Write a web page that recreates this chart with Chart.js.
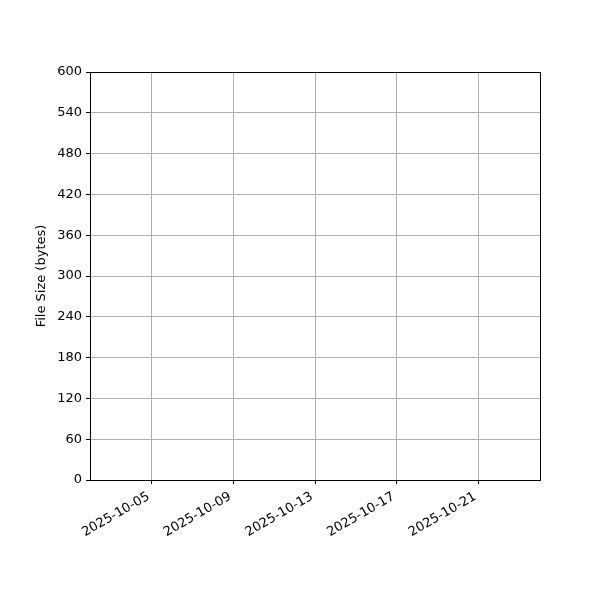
<!DOCTYPE html>
<html>
<head>
<meta charset="utf-8">
<script src="https://cdn.jsdelivr.net/npm/chart.js@4.4.1/dist/chart.umd.min.js"></script>
<style>
  html, body { margin: 0; padding: 0; background: #fff; }
  #wrap { width: 600px; height: 600px; }
</style>
</head>
<body>
<div id="wrap"><canvas id="size_chart" width="600" height="600"></canvas></div>
<script>
// series (empty in the source picture)
var uploadDates = [];
var fileSizes = [];

// axis ticks
var dateTicks = ['2025-10-05', '2025-10-09', '2025-10-13', '2025-10-17', '2025-10-21'];
var sizeTicks = [0, 60, 120, 180, 240, 300, 360, 420, 480, 540, 600];
var dateRange = ['2025-10-02', '2025-10-24'];

function toDay(s) {
    var p = s.split('-');
    return Date.UTC(+p[0], +p[1] - 1, +p[2]) / 86400000;
}
function fromDay(d) {
    var dt = new Date(Math.round(d) * 86400000);
    var m = dt.getUTCMonth() + 1, dd = dt.getUTCDate();
    return dt.getUTCFullYear() + '-' + (m < 10 ? '0' : '') + m + '-' + (dd < 10 ? '0' : '') + dd;
}

var points = uploadDates.map(function (d, i) { return { x: toDay(d), y: fileSizes[i] }; });

var framePlugin = {
    id: 'frame',
    afterDraw: function (chart) {
        var a = chart.chartArea, ctx = chart.ctx;
        ctx.save();
        ctx.strokeStyle = '#000';
        ctx.lineWidth = 1;
        ctx.strokeRect(Math.round(a.left) + 0.5, Math.round(a.top) + 0.5,
            Math.round(a.right - a.left), Math.round(a.bottom - a.top));
        ctx.restore();
    }
};

Chart.defaults.font.family = "'DejaVu Sans', sans-serif";
Chart.defaults.font.size = 13;
Chart.defaults.color = '#000';

new Chart(document.getElementById('size_chart').getContext('2d'), {
    type: 'line',
    data: {
        datasets: [{
            label: 'File Size',
            data: points,
            borderColor: '#1f77b4',
            backgroundColor: '#1f77b4',
            pointRadius: 3
        }]
    },
    options: {
        responsive: false,
        animation: false,
        devicePixelRatio: 1,
        layout: { padding: { top: 72, right: 60, left: 0, bottom: 0 } },
        plugins: { legend: { display: false }, tooltip: { enabled: false } },
        scales: {
            x: {
                type: 'linear',
                min: toDay(dateRange[0]) - 0.02,
                max: toDay(dateRange[1]) + 0.02,
                afterFit: function (s) { s.height = 120; },
                afterBuildTicks: function (s) {
                    s.ticks = dateTicks.map(function (d) { return { value: toDay(d) }; });
                },
                ticks: {
                    minRotation: 30,
                    maxRotation: 30,
                    padding: 5,
                    labelOffset: -3,
                    autoSkip: false,
                    callback: function (v) { return fromDay(v); }
                },
                grid: { color: '#b0b0b0', lineWidth: 1, tickColor: '#000', tickLength: 4 },
                border: { color: '#000', width: 1 }
            },
            y: {
                min: sizeTicks[0],
                max: sizeTicks[sizeTicks.length - 1],
                afterFit: function (s) { s.width = 90; },
                afterBuildTicks: function (s) {
                    s.ticks = sizeTicks.map(function (v) { return { value: v }; });
                },
                ticks: { padding: 4 },
                grid: { color: '#b0b0b0', lineWidth: 1, tickColor: '#000', tickLength: 4 },
                border: { color: '#000', width: 1 },
                title: {
                    display: true,
                    text: 'File Size (bytes)',
                    font: { size: 13 },
                    padding: { top: 34, bottom: 0 }
                }
            }
        }
    },
    plugins: [framePlugin]
});
</script>
</body>
</html>
